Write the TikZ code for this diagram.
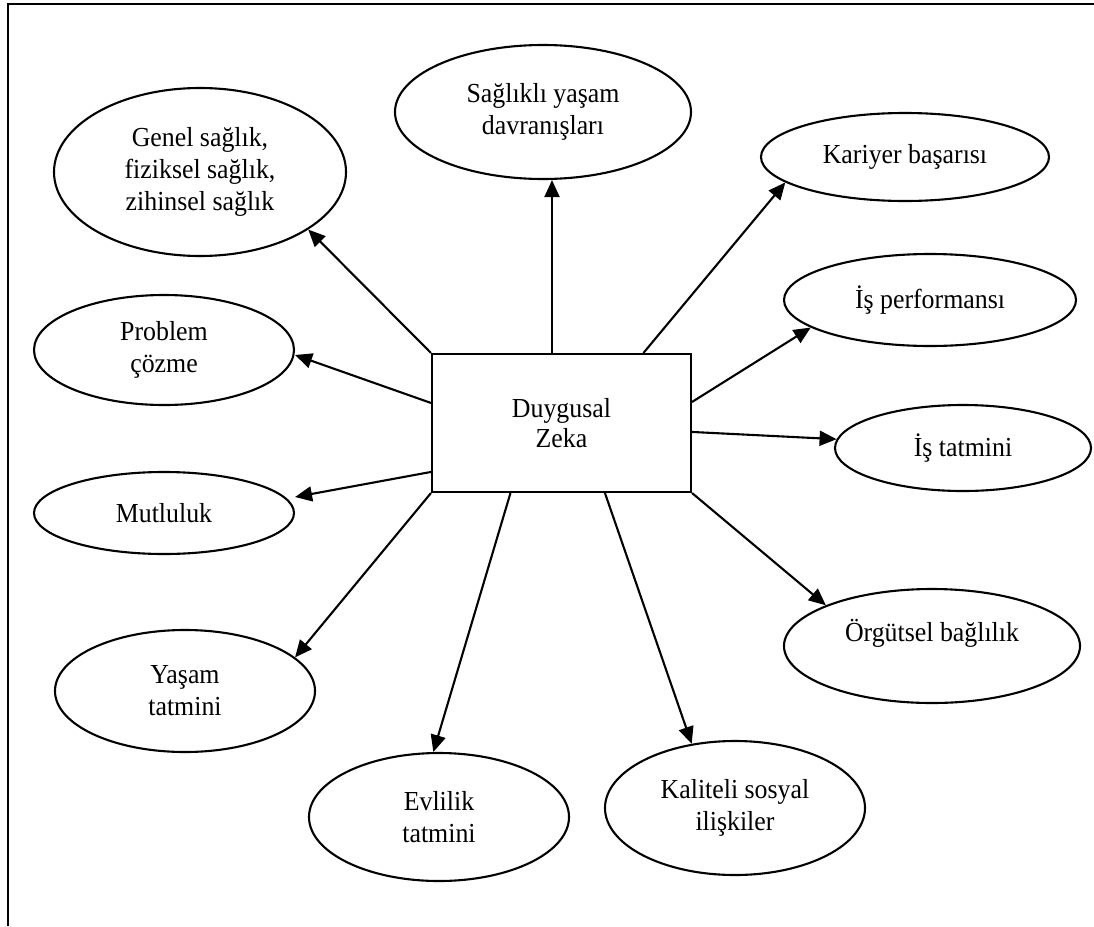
\documentclass[tikz,border=0pt]{standalone}
\usepackage{fontspec}
\setmainfont{Liberation Serif}[FakeStretch=0.94]
\usetikzlibrary{arrows.meta,shapes.geometric}
\begin{document}
\begin{tikzpicture}[x=1pt,y=-1pt,
  txt/.style={font=\fontsize{27.5}{32}\selectfont},
  ell/.style={ellipse,draw,line width=2.1pt,inner sep=0pt,align=center,txt},
  boxn/.style={rectangle,draw,line width=2.1pt,minimum width=259pt,minimum height=138pt,inner sep=0pt,align=center,font=\fontsize{27.5}{30}\selectfont},
  arr/.style={line width=2.1pt,-{Triangle[length=17pt,width=15pt]}},
  frameline/.style={line width=2.2pt}]
\useasboundingbox (0,0) rectangle (1094,926);
\coordinate (ftop) at (1094,4);
\coordinate (fcorner) at (8,4);
\coordinate (fbot) at (8,926);
\draw[frameline] (ftop) -- (fcorner) -- (fbot);

\node[boxn] (dz) at (561.5,423) {Duygusal\\Zeka};

\node[ell,minimum width=296pt,minimum height=134pt] (sag) at (543,112) {Sağlıklı yaşam\\davranışları};
\node[ell,minimum width=292pt,minimum height=168pt] (gen) at (200,172) {Genel sağlık,\\fiziksel sağlık,\\zihinsel sağlık};
\node[ell,minimum width=288pt,minimum height=88pt] (kar) at (905,157) {Kariyer başarısı};
\node[ell,minimum width=292pt,minimum height=92pt] (isp) at (930,300) {İş performansı};
\node[ell,minimum width=256pt,minimum height=86pt] (ist) at (963,448) {İş tatmini};
\node[ell,minimum width=260pt,minimum height=110pt] (pro) at (164,350) {Problem\\çözme};
\node[ell,minimum width=260pt,minimum height=82pt] (mut) at (164,513) {Mutluluk};
\node[ell,minimum width=260pt,minimum height=122pt] (yas) at (185,691) {Yaşam\\tatmini};
\node[ell,minimum width=260pt,minimum height=128pt] (evl) at (439,817) {Evlilik\\tatmini};
\node[ell,minimum width=260pt,minimum height=134pt] (kal) at (735,808) {Kaliteli sosyal\\ilişkiler};
\node[ell,minimum width=296pt,minimum height=114pt] (org) at (932,646) {Örgütsel bağlılık\\\mbox{}};

\draw[arr] (dz.north west) -- (gen.-28);
\draw[arr] ([xshift=-9.5pt]dz.north) -- ([xshift=-9.5pt]dz.north |- sag.south);
\draw[arr] ([xshift=212.5pt]dz.north west) -- (kar.192);
\draw[arr] ([yshift=-49pt]dz.north east) -- (isp.193);
\draw[arr] ([yshift=-79pt]dz.north east) -- (ist.176);
\draw[arr] ([yshift=-50pt]dz.north west) -- ([yshift=-5pt]pro.east);
\draw[arr] ([yshift=-119pt]dz.north west) -- ([yshift=16pt]mut.east);
\draw[arr] (dz.south west) -- (yas.17);
\draw[arr] ([xshift=79.5pt]dz.south west) -- (evl.95);
\draw[arr] ([xshift=174pt]dz.south west) -- (kal.124);
\draw[arr] (dz.south east) -- (org.159);
\end{tikzpicture}
\end{document}
